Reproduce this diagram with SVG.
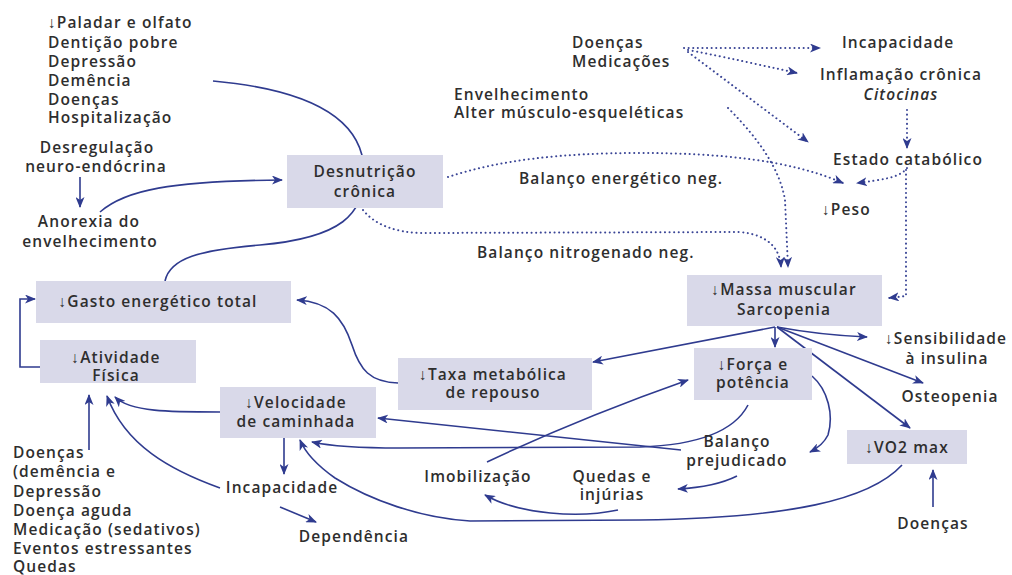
<svg xmlns="http://www.w3.org/2000/svg" width="1012" height="575" viewBox="0 0 1012 575">
<style>
text{font-family:"Open Sans","Liberation Sans",sans-serif;font-size:15.5px;font-weight:600;letter-spacing:1.1px;fill:#2e2e2e}
.c{text-anchor:middle}
.i{font-style:italic}
.box{fill:#d9d9e9}
.ln{fill:none;stroke:#2f3b8f;stroke-width:1.6}
.dt{fill:none;stroke:#3a4596;stroke-width:2;stroke-dasharray:0.1 4.5;stroke-linecap:round}
</style>
<defs>
<marker id="a" markerUnits="userSpaceOnUse" markerWidth="11" markerHeight="9" viewBox="0 0 11 9" refX="10" refY="4.5" orient="auto">
<path d="M0,0 L11,4.5 L0,9 L3,4.5 z" fill="#2f3b8f"/>
</marker>
</defs>
<rect width="1012" height="575" fill="#ffffff"/>

<g id="connectors">
<path class="ln" d="M213,81 C290,88 362,110 364,170 C366,215 340,238 260,245 C200,250 170,258 165,281"/>
<path class="ln" d="M100,212 C125,190 170,181 282,180" marker-end="url(#a)"/>
<path class="ln" d="M80,177 L80,207" marker-end="url(#a)"/>
<path class="ln" d="M40,367 L20,367 L20,299 L35,299" marker-end="url(#a)"/>
<path class="ln" d="M398,383 C370,382 360,370 352,345 C343,318 330,302 297,300" marker-end="url(#a)"/>
<path class="ln" d="M775,327 L593,362" marker-end="url(#a)"/>
<path class="ln" d="M775,327 L775,347" marker-end="url(#a)"/>
<path class="ln" d="M777,327 Q820,335 867,337" marker-end="url(#a)"/>
<path class="ln" d="M777,327 L923,383" marker-end="url(#a)"/>
<path class="ln" d="M777,327 L910,428" marker-end="url(#a)"/>
<path class="ln" d="M812,376 C828,390 834,415 828,435 C824,443 818,448 810,452" marker-end="url(#a)"/>
<path class="ln" d="M748,405 C735,430 700,445 640,447 L400,448 C360,448 330,446 312,442" marker-end="url(#a)"/>
<path class="ln" d="M681,450 L378,418" marker-end="url(#a)"/>
<path class="ln" d="M487,462 Q580,418 688,380" marker-end="url(#a)"/>
<path class="ln" d="M737,476 Q715,487 678,489" marker-end="url(#a)"/>
<path class="ln" d="M618,510 C580,518 520,515 485,495" marker-end="url(#a)"/>
<path class="ln" d="M902,465 C870,500 790,518 640,520 L470,521 C420,518 370,500 335,478 C318,466 305,452 300,440" marker-end="url(#a)"/>
<path class="ln" d="M284,438 L284,474" marker-end="url(#a)"/>
<path class="ln" d="M280,507 L316,522" marker-end="url(#a)"/>
<path class="ln" d="M220,488 C170,470 125,445 107,396" marker-end="url(#a)"/>
<path class="ln" d="M220,412 C170,412 130,412 115,397" marker-end="url(#a)"/>
<path class="ln" d="M89,450 L89,395" marker-end="url(#a)"/>
<path class="ln" d="M933,507 L933,470" marker-end="url(#a)"/>

<path class="dt" d="M448,177 C500,160 560,153 640,153 C720,153 790,160 843,183" marker-end="url(#a)"/>
<path class="dt" d="M363,210 C375,225 395,232 420,233 L740,232 C770,235 780,250 781,267" marker-end="url(#a)"/>
<path class="dt" d="M728,108 C760,140 780,170 785,200 L788,267" marker-end="url(#a)"/>
<path class="dt" d="M684,48 L820,48" marker-end="url(#a)"/>
<path class="dt" d="M688,50 C730,58 760,65 797,73" marker-end="url(#a)"/>
<path class="dt" d="M688,52 L808,142" marker-end="url(#a)"/>
<path class="dt" d="M907,110 L907,148" marker-end="url(#a)"/>
<path class="dt" d="M907,168 C900,178 880,180 857,183" marker-end="url(#a)"/>
<path class="dt" d="M906,170 L906,296 L889,298" marker-end="url(#a)"/>
</g>

<g id="desnutricao"><rect class="box" x="287" y="155" width="156" height="53"/><text class="c" x="365" y="177">Desnutrição</text><text class="c" x="365" y="197">crônica</text></g>
<g id="gasto"><rect class="box" x="36" y="281" width="255" height="42"/><text class="c" x="158" y="307">↓Gasto energético total</text></g>
<g id="atividade"><rect class="box" x="40" y="340" width="156" height="43"/><text class="c" x="116" y="363">↓Atividade</text><text class="c" x="116" y="381">Física</text></g>
<g id="velocidade"><rect class="box" x="220" y="387" width="156" height="51"/><text class="c" x="296" y="408">↓Velocidade</text><text class="c" x="296" y="427">de caminhada</text></g>
<g id="taxa"><rect class="box" x="398" y="358" width="194" height="52"/><text class="c" x="493" y="380">↓Taxa metabólica</text><text class="c" x="493" y="398">de repouso</text></g>
<g id="massa"><rect class="box" x="687" y="275" width="195" height="51"/><text class="c" x="784" y="295">↓Massa muscular</text><text class="c" x="784" y="315">Sarcopenia</text></g>
<g id="forca"><rect class="box" x="694" y="348" width="118" height="52"/><text class="c" x="753" y="370">↓Força e</text><text class="c" x="753" y="388">potência</text></g>
<g id="vo2"><rect class="box" x="847" y="430" width="120" height="34"/><text class="c" x="907" y="453">↓VO2 max</text></g>

<g id="causas-desnutricao"><text x="48" y="28">↓Paladar e olfato</text><text x="48" y="48">Dentição pobre</text><text x="48" y="67">Depressão</text><text x="48" y="86">Demência</text><text x="48" y="105">Doenças</text><text x="48" y="123">Hospitalização</text></g>
<g id="desregulacao"><text class="c" x="97" y="153">Desregulação</text><text class="c" x="96" y="172">neuro-endócrina</text></g>
<g id="anorexia"><text class="c" x="89" y="227">Anorexia do</text><text class="c" x="90" y="247">envelhecimento</text></g>
<g id="causas-atividade"><text x="13" y="458">Doenças</text><text x="13" y="477">(demência e</text><text x="13" y="497">Depressão</text><text x="13" y="516">Doença aguda</text><text x="13" y="535">Medicação (sedativos)</text><text x="13" y="554">Eventos estressantes</text><text x="13" y="572">Quedas</text></g>
<g id="incapacidade2"><text class="c" x="282" y="493">Incapacidade</text></g>
<g id="dependencia"><text class="c" x="354" y="542">Dependência</text></g>
<g id="imobilizacao"><text class="c" x="478" y="482">Imobilização</text></g>
<g id="quedas"><text class="c" x="612" y="482">Quedas e</text><text class="c" x="612" y="500">injúrias</text></g>
<g id="balanco"><text class="c" x="737" y="447">Balanço</text><text class="c" x="737" y="466">prejudicado</text></g>
<g id="doencas-vo2"><text class="c" x="933" y="529">Doenças</text></g>
<g id="sensibilidade"><text class="c" x="946" y="344">↓Sensibilidade</text><text class="c" x="947" y="364">à insulina</text></g>
<g id="osteopenia"><text class="c" x="950" y="402">Osteopenia</text></g>
<g id="doencas-med"><text x="572" y="48">Doenças</text><text x="572" y="67">Medicações</text></g>
<g id="envelhecimento"><text x="454" y="100">Envelhecimento</text><text x="454" y="118">Alter músculo-esqueléticas</text></g>
<g id="incapacidade1"><text x="842" y="48">Incapacidade</text></g>
<g id="inflamacao"><text class="c" x="901" y="80">Inflamação crônica</text><text class="c i" x="901" y="100">Citocinas</text></g>
<g id="estado"><text class="c" x="908" y="165">Estado catabólico</text></g>
<g id="peso"><text x="822" y="215">↓Peso</text></g>
<g id="balanco-energetico"><text x="519" y="184">Balanço energético neg.</text></g>
<g id="balanco-nitrogenado"><text x="477" y="258">Balanço nitrogenado neg.</text></g>
</svg>
